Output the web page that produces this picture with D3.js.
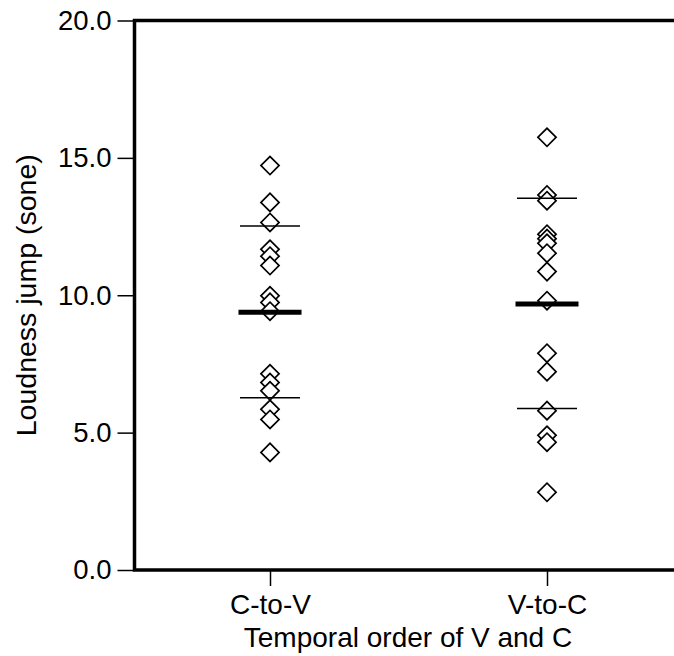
<!DOCTYPE html>
<html>
<head>
<meta charset="utf-8">
<script src="https://cdn.jsdelivr.net/npm/d3@7"></script>
<style>
  html, body { margin: 0; padding: 0; background: #fff; }
  svg { display: block; }
  text { font-family: "Liberation Sans", Arial, sans-serif; fill: #000; }
</style>
</head>
<body>
<svg id="chart" width="674" height="656"></svg>
<script>
// ---- data ----
const categories = ["C-to-V", "V-to-C"];
const cToV = [14.72, 13.38, 12.65, 11.67, 11.42, 11.08, 9.98, 9.74, 9.42, 7.14, 6.82, 6.52, 5.85, 5.48, 4.28];
const vToC = [15.75, 13.65, 13.44, 12.22, 12.06, 11.89, 11.53, 10.86, 9.80, 7.89, 7.22, 5.80, 4.90, 4.65, 2.83];
const means = [9.38, 9.68];
const sdUpper = [12.52, 13.53];
const sdLower = [6.27, 5.88];
const yTicks = [0, 5, 10, 15, 20];
const yTitle = "Loudness jump (sone)";
const xTitle = "Temporal order of V and C";

const series = [cToV, vToC];

// ---- layout ----
const svg = d3.select("#chart");
const mLeft = 134.5, mTop = 20.5, mBottom = 570, mRight = 700;

const y = d3.scaleLinear().domain([0, 20]).range([mBottom, mTop]);
const x = d3.scalePoint().domain(categories).range([270, 547]);

// y axis
const yAxis = svg.append("g")
  .attr("transform", `translate(${mLeft},0)`)
  .call(d3.axisLeft(y).tickValues(yTicks).tickFormat(d3.format(".1f")).tickSize(17).tickPadding(6));
yAxis.select(".domain").remove();
yAxis.selectAll(".tick line").attr("stroke", "#000").attr("stroke-width", 1.5);
yAxis.selectAll(".tick text").attr("font-size", 27.5).attr("font-family", "Liberation Sans, Arial, sans-serif").attr("fill", "#000");

// x axis
const xAxis = svg.append("g")
  .attr("transform", `translate(0,${mBottom})`)
  .call(d3.axisBottom(x).tickSize(16).tickPadding(8));
xAxis.select(".domain").remove();
xAxis.selectAll(".tick line").attr("stroke", "#000").attr("stroke-width", 1.5);
xAxis.selectAll(".tick text").attr("font-size", 28).attr("font-family", "Liberation Sans, Arial, sans-serif").attr("fill", "#000");

// frame
svg.append("rect")
  .attr("x", mLeft).attr("y", mTop)
  .attr("width", mRight - mLeft).attr("height", mBottom - mTop)
  .attr("fill", "none").attr("stroke", "#000").attr("stroke-width", 3.5);

// diamonds
const diamond = d3.symbol().type(d3.symbolSquare).size(165);
series.forEach((vals, i) => {
  const sorted = vals.slice().sort((a, b) => b - a);
  svg.append("g").selectAll("path")
    .data(sorted)
    .join("path")
    .attr("d", diamond)
    .attr("transform", d => `translate(${x(categories[i])},${y(d)}) rotate(45)`)
    .attr("fill", "#fff")
    .attr("stroke", "#000")
    .attr("stroke-width", 1.7);
});

// SD and mean lines
categories.forEach((c, i) => {
  [sdUpper[i], sdLower[i]].forEach(v => {
    svg.append("line")
      .attr("x1", x(c) - 30).attr("x2", x(c) + 30)
      .attr("y1", y(v)).attr("y2", y(v))
      .attr("stroke", "#000").attr("stroke-width", 1.5);
  });
  svg.append("line")
    .attr("x1", x(c) - 31.5).attr("x2", x(c) + 31.5)
    .attr("y1", y(means[i])).attr("y2", y(means[i]))
    .attr("stroke", "#000").attr("stroke-width", 5);
});

// titles
svg.append("text")
  .attr("transform", `translate(36,${(mTop + mBottom) / 2}) rotate(-90)`)
  .attr("text-anchor", "middle")
  .attr("font-size", 28.5)
  .text(yTitle);

svg.append("text")
  .attr("x", 408).attr("y", 647)
  .attr("text-anchor", "middle")
  .attr("font-size", 28)
  .text(xTitle);
</script>
</body>
</html>
